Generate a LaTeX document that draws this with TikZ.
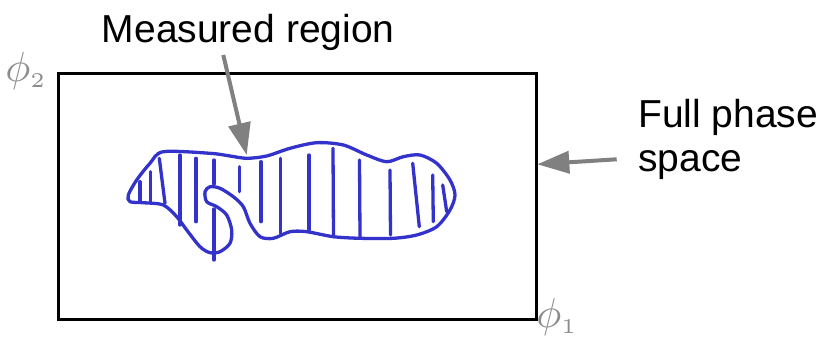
\documentclass[tikz,border=0pt]{standalone}
\usepackage{fontspec}
\setmainfont{Liberation Sans}
\usetikzlibrary{arrows.meta}
\definecolor{blobblue}{RGB}{51,51,204}
\definecolor{arrgray}{RGB}{128,128,128}
\definecolor{phigray}{RGB}{140,140,140}
\tikzset{
  label text/.style={font=\fontsize{39}{44}\selectfont, inner sep=0pt, anchor=base west, align=left},
  callout/.style={draw=arrgray, line width=4pt, -{Triangle[length=32pt,width=22pt]}},
  blob/.style={draw=blobblue, line width=3.3pt, line join=round, line cap=round},
  hatch/.style={draw=blobblue, line width=3.3pt, line cap=round},
  axis label/.style={text=phigray, inner sep=0pt, scale=4.2},
}
\begin{document}
\begin{tikzpicture}[x=1pt,y=-1pt]
\useasboundingbox (0,0) rectangle (824,339);
\node[draw, line width=3pt, minimum width=478pt, minimum height=246pt, anchor=north west, inner sep=0pt] (box) at (57,72) {};
\draw[blob] plot[smooth cycle, tension=0.5] coordinates {
(163.3,151.7) (210,153.3) (230,156) (246.7,158.3) (266.7,156) (290,148.3) (316.7,142.7)
(343.3,145) (366.7,155) (386.7,161.7) (403.3,156.7) (420,155) (436.7,163.3) (450,180)
(455,195) (450,210) (436.7,226.7) (416.7,235) (393.3,238.3) (360,238.3) (333.3,236.7)
(306.7,231.7) (290,231.7) (273.3,238.3) (260,236.7) (250,223.3) (243.3,206.7) (233.3,196.7)
(220,188.3) (210,186.7) (205,191.7) (206.7,201.7) (216.7,206.7) (226.7,215) (231.7,230)
(230,243.3) (220,251.7) (210,252.7) (200,246.7) (186.7,230) (176.7,216.7) (163.3,205)
(143.3,202.7) (130,201.7) (128.3,195) (136.7,180) (150,163.3)};
\draw[hatch] (140,181.7) -- (140,201.7);
\draw[hatch] (150.7,171.7) -- (150.7,201.7);
\draw[hatch] (159.3,158.3) -- (165,203.3);
\draw[hatch] (180,155) -- (180,225);
\draw[hatch] (196,158.3) -- (196,221.7);
\draw[hatch] (214,160) -- (214,184);
\draw[hatch] (214,209) -- (214,260);
\draw[hatch] (239.3,166.7) -- (239.3,191.7);
\draw[hatch] (261,161.7) -- (261,221.7);
\draw[hatch] (280.7,158.3) -- (280.7,233.3);
\draw[hatch] (309,155) -- (309,230);
\draw[hatch] (333,148.3) -- (333.5,236.7);
\draw[hatch] (359.5,160) -- (360,236.7);
\draw[hatch] (390,170) -- (390.5,235);
\draw[hatch] (412.7,163.3) -- (419.3,226.7);
\draw[hatch] (432.7,175) -- (433.3,221.7);
\draw[hatch] (442.7,185) -- (446.7,211.7);
\node[label text] (mr) at (101.7,42.7) {Measured region};
\node[label text] (fps) at (638,171.7) {Full phase\\space};
\coordinate (mrtail) at (223.3,55);
\coordinate (mrtip) at (246.7,155);
\coordinate (fpstail) at (616.7,159.3);
\coordinate (fpstip) at (537.3,164.3);
\draw[callout] (mrtail) -- (mrtip);
\draw[callout] (fpstail) -- (fpstip);
\node[axis label] (phi2) at (26,71) {$\phi_{\scriptscriptstyle 2}$};
\node[axis label] (phi1) at (557,317) {$\phi_{\scriptscriptstyle 1}$};
\end{tikzpicture}
\end{document}
